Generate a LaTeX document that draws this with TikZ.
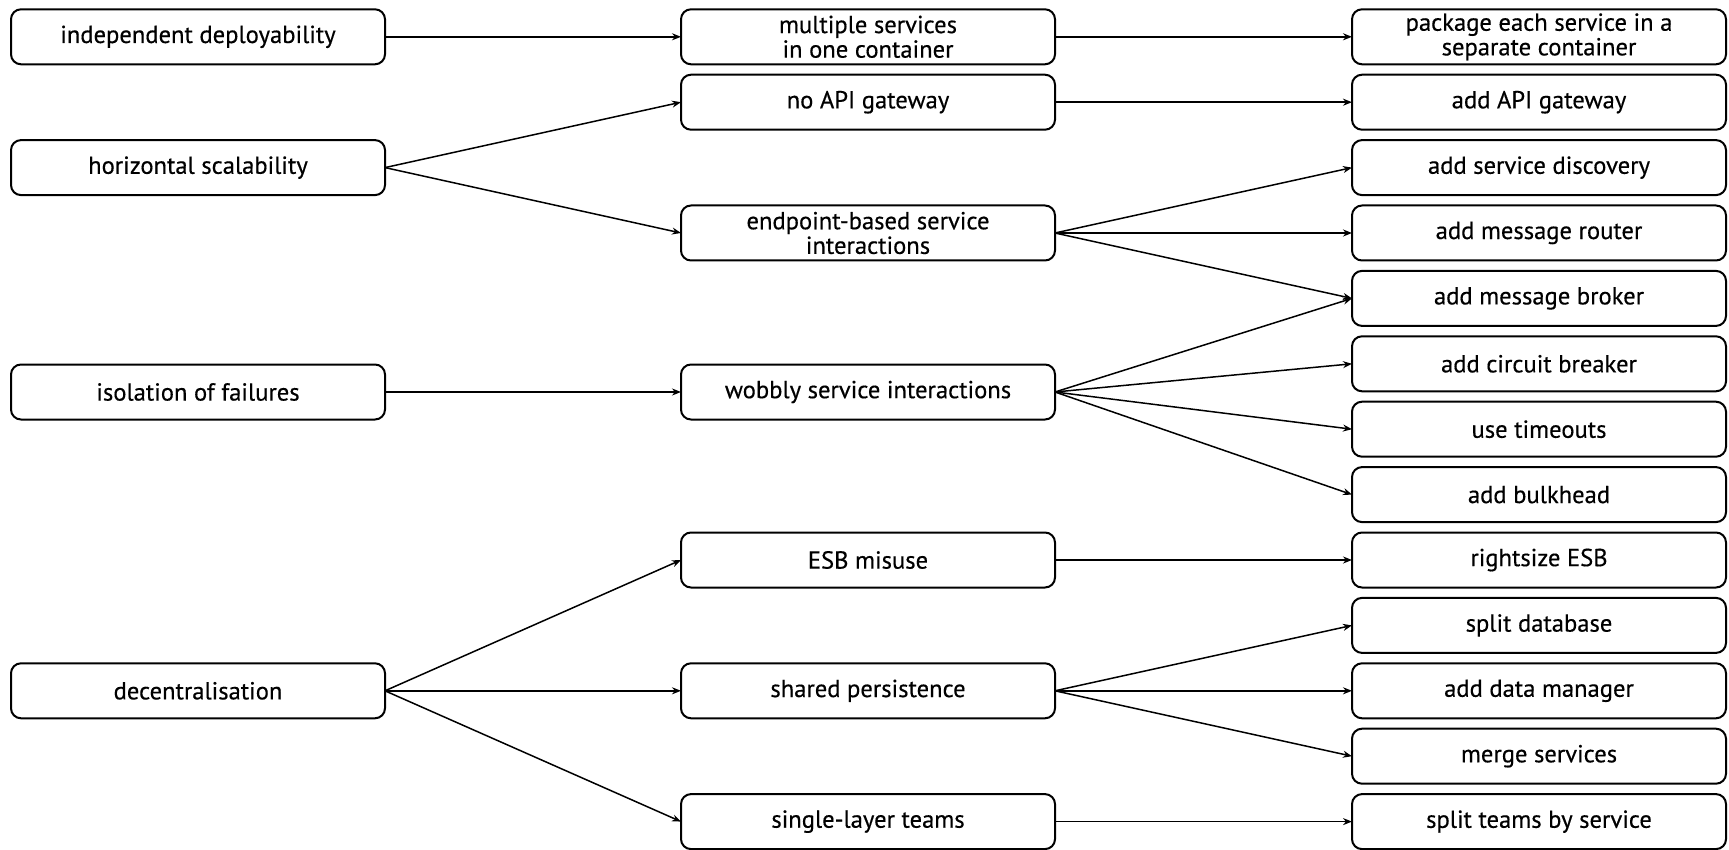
\documentclass[tikz,border=0pt]{standalone}
\usepackage{fontspec}
\setmainfont{PT Sans}[FakeBold=0.4]
\usetikzlibrary{arrows.meta}

\begin{document}
\begin{tikzpicture}[x=0.5pt,y=-0.5pt,
  box/.style={draw=black, line width=1pt, rounded corners=5pt, fill=white,
    minimum width=187pt, minimum height=27.5pt, inner sep=0pt, outer sep=0pt,
    align=center, font=\fontsize{12.3}{12.3}\selectfont},
  link/.style={line width=0.75pt, -{Stealth[length=4.5pt,width=3.5pt]}}]
\useasboundingbox (0,0) rectangle (1729,850);

% goals
\node[box] (dep)  at (198,36.8)  {independent deployability};
\node[box] (hor)  at (198,167.6) {horizontal scalability};
\node[box] (iso)  at (198,392)   {isolation of failures};
\node[box] (dec)  at (198,690.8) {decentralisation};

% smells
\node[box] (mul)  at (868,36.8)  {multiple services\\in one container};
\node[box] (noapi) at (868,102.2) {no API gateway};
\node[box] (endp) at (868,233.0) {endpoint-based service\\interactions};
\node[box] (wob)  at (868,392)   {wobbly service interactions};
\node[box] (esb)  at (868,560.0) {ESB misuse};
\node[box] (shp)  at (868,690.8) {shared persistence};
\node[box] (slt)  at (868,821.6) {single-layer teams};

% refactorings
\node[box] (pkg)  at (1539,36.8)  {package each service in a\\separate container};
\node[box] (api)  at (1539,102.2) {add API gateway};
\node[box] (sdis) at (1539,167.6) {add service discovery};
\node[box] (mrt)  at (1539,233.0) {add message router};
\node[box] (mbr)  at (1539,298.4) {add message broker};
\node[box] (cbr)  at (1539,363.8) {add circuit breaker};
\node[box] (tmo)  at (1539,429.2) {use timeouts};
\node[box] (blk)  at (1539,494.6) {add bulkhead};
\node[box] (rsz)  at (1539,560.0) {rightsize ESB};
\node[box] (sdb)  at (1539,625.4) {split database};
\node[box] (dmg)  at (1539,690.8) {add data manager};
\node[box] (mrg)  at (1539,756.2) {merge services};
\node[box] (stm)  at (1539,821.6) {split teams by service};

% goal -> smell
\draw[link] (dep.east) -- (mul.west);
\draw[link] (hor.east) -- (noapi.west);
\draw[link] (hor.east) -- (endp.west);
\draw[link] (iso.east) -- (wob.west);
\draw[link] (dec.east) -- (esb.west);
\draw[link] (dec.east) -- (shp.west);
\draw[link] (dec.east) -- (slt.west);

% smell -> refactoring
\draw[link] (mul.east) -- (pkg.west);
\draw[link] (noapi.east) -- (api.west);
\draw[link] (endp.east) -- (sdis.west);
\draw[link] (endp.east) -- (mrt.west);
\draw[link] (endp.east) -- (mbr.west);
\draw[link] (wob.east) -- (mbr.west);
\draw[link] (wob.east) -- (cbr.west);
\draw[link] (wob.east) -- (tmo.west);
\draw[link] (wob.east) -- (blk.west);
\draw[link] (esb.east) -- (rsz.west);
\draw[link] (shp.east) -- (sdb.west);
\draw[link] (shp.east) -- (dmg.west);
\draw[link] (shp.east) -- (mrg.west);
\draw[link] (slt.east) -- (stm.west);
\end{tikzpicture}
\end{document}
